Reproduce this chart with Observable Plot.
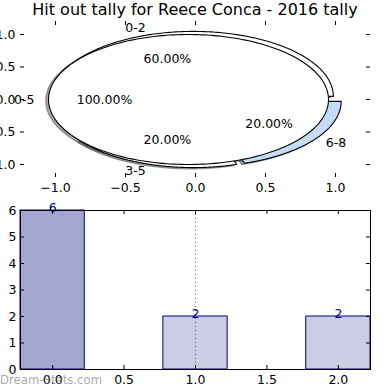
<!DOCTYPE html>
<html><head><meta charset="utf-8">
<script src="https://cdn.jsdelivr.net/npm/d3@7"></script>
<script src="https://cdn.jsdelivr.net/npm/@observablehq/plot@0.6"></script>
<style>
body{margin:0;background:#fff;font-family:"DejaVu Sans",sans-serif;}
#wrap{position:relative;width:390px;height:390px;overflow:hidden;background:#fff;}
#wrap svg{position:absolute;left:0;}
#title{position:absolute;left:0;top:0;width:390px;text-align:center;font-size:16px;line-height:20px;color:#000;}
#wm{position:absolute;left:0;top:372px;font-size:11.7px;line-height:16px;color:rgba(110,110,110,0.6);}
</style></head><body><div id="wrap"><div id="title"></div><div id="wm"></div></div>
<script>
const titleText = "Hit out tally for Reece Conca - 2016 tally";
const watermark = "Dream-Stats.com";
// pie 1 (split ranges)
const pieLabels = ["0-2", "3-5", "6-8"];
const pieValues = [6, 2, 2];
const pieColors = ["#ffffff", "#ffffff", "#c6dbf7"];
// pie 2 (total range)
const totalLabels = ["0-5"];
const totalValues = [10];
const totalColors = ["#ffffff"];
const explode = 0.05;
const pieTicksX = [-1, -0.5, 0, 0.5, 1];
const pieTicksY = [-1, -0.5, 0, 0.5, 1];
// bars
const barCategories = [0, 1, 2];
const barValues = [6, 2, 2];
const barColors = ["#a4a6d2", "#cccce5", "#cccce5"];
const barTicksX = [0, 0.5, 1, 1.5, 2];
const barTicksY = [0, 1, 2, 3, 4, 5, 6];
const refLineX = [1.0];
const barWidth = 0.45;

const fmt1 = d => d.toFixed(1).replace("-", "\u2212");

function wedges(values, labels, colors) {
  const total = d3.sum(values);
  let a = 0;
  return values.map((v, i) => {
    const a0 = a, a1 = a + v / total * 2 * Math.PI; a = a1;
    const m = (a0 + a1) / 2;
    const cx = explode * Math.cos(m), cy = explode * Math.sin(m);
    const full = v === total;
    const pts = [];
    if (!full) pts.push({x: cx, y: cy});
    const n = 240;
    for (let k = 0; k <= n; k++) {
      const t = a0 + (a1 - a0) * k / n;
      pts.push({x: cx + Math.cos(t), y: cy + Math.sin(t)});
    }
    if (!full) pts.push({x: cx, y: cy});
    const lx = cx + 1.1 * Math.cos(m), ly = cy + 1.1 * Math.sin(m);
    return {label: labels[i], pct: (v / total * 100).toFixed(2) + "%", color: colors[i],
      pts, lx, ly, px: cx + 0.6 * Math.cos(m), py: cy + 0.6 * Math.sin(m)};
  });
}
const w1 = wedges(pieValues, pieLabels, pieColors);
const w2 = wedges(totalValues, totalLabels, totalColors);
const all = [...w1, ...w2];

const shade = c => { const r = d3.rgb(c); return d3.rgb(r.r * 0.3, r.g * 0.3, r.b * 0.3).formatHex(); };

const shadowMarks = all.map(w => Plot.line(w.pts.map(p => ({x: p.x - 0.02, y: p.y - 0.02})),
  {x: "x", y: "y", fill: shade(w.color), fillOpacity: 0.5, stroke: shade(w.color), strokeOpacity: 0.5, strokeWidth: 1.2}));
const wedgeMarks = all.map(w => Plot.line(w.pts,
  {x: "x", y: "y", fill: w.color, stroke: "black", strokeWidth: 1.1}));

const FW = 350, FH1 = 156, FH2 = 159, TL = 4;

const topPlot = Plot.plot({
  width: 390, height: 195, marginLeft: 20, marginRight: 20, marginTop: 21, marginBottom: 18,
  x: {domain: [-1.25, 1.25], label: null}, y: {domain: [-1.2, 1.2], label: null},
  style: {fontFamily: "DejaVu Sans", fontSize: "12.5px", background: "transparent", color: "black"},
  marks: [
    ...shadowMarks,
    ...wedgeMarks,
    Plot.text(all.filter(w => w.lx > 0), {x: "lx", y: "ly", text: "label", textAnchor: "start", fontSize: 12.5}),
    Plot.text(all.filter(w => w.lx <= 0), {x: "lx", y: "ly", text: "label", textAnchor: "end", fontSize: 12.5}),
    Plot.text(all, {x: "px", y: "py", text: "pct", textAnchor: "middle", fontSize: 12.5}),
    Plot.tickX(pieTicksX, {x: d => d, insetBottom: FH1 - TL, stroke: "black"}),
    Plot.tickX(pieTicksX, {x: d => d, insetTop: FH1 - TL, stroke: "black"}),
    Plot.tickY(pieTicksY, {y: d => d, insetRight: FW - TL, stroke: "black"}),
    Plot.tickY(pieTicksY, {y: d => d, insetLeft: FW - TL, stroke: "black"}),
    Plot.axisX(pieTicksX, {anchor: "bottom", tickSize: 0, tickPadding: 6, tickFormat: fmt1, fontSize: 12.5, label: null}),
    Plot.axisY(pieTicksY, {anchor: "left", tickSize: 0, tickPadding: 5, tickFormat: fmt1, fontSize: 12.5, label: null})
  ]
});
topPlot.style.top = "0px";

const barData = barCategories.map((c, i) => ({c, v: barValues[i], color: barColors[i]}));
const botPlot = Plot.plot({
  width: 390, height: 195, marginLeft: 20, marginRight: 20, marginTop: 15, marginBottom: 21,
  x: {domain: [-barWidth / 2, 2 + barWidth / 2], label: null}, y: {domain: [0, 6], label: null},
  color: {type: "identity"},
  style: {fontFamily: "DejaVu Sans", fontSize: "12.5px", background: "transparent", color: "black"},
  marks: [
    Plot.rect(barData, {x1: d => d.c - barWidth / 2, x2: d => d.c + barWidth / 2, y1: 0, y2: "v",
      fill: "color", stroke: "#000080", strokeWidth: 1}),
    Plot.ruleX(refLineX, {x: d => d, stroke: "#666", strokeDasharray: "1,3", strokeWidth: 1}),
    Plot.text(barData, {x: "c", y: "v", text: d => String(d.v), lineAnchor: "bottom", fill: "#000080", fontSize: 12.5, dy: 1}),
    Plot.frame({stroke: "black"}),
    Plot.tickX(barTicksX, {x: d => d, insetBottom: FH2 - TL, stroke: "black"}),
    Plot.tickX(barTicksX, {x: d => d, insetTop: FH2 - TL, stroke: "black"}),
    Plot.tickY(barTicksY, {y: d => d, insetRight: FW - TL, stroke: "black"}),
    Plot.tickY(barTicksY, {y: d => d, insetLeft: FW - TL, stroke: "black"}),
    Plot.axisX(barTicksX, {anchor: "bottom", tickSize: 0, tickPadding: 6, tickFormat: fmt1, fontSize: 12.5, label: null}),
    Plot.axisY(barTicksY, {anchor: "left", tickSize: 0, tickPadding: 4, tickFormat: d => String(d), fontSize: 12.5, label: null})
  ]
});
botPlot.style.top = "195px";

const wrap = document.getElementById("wrap");
wrap.insertBefore(topPlot, wrap.firstChild);
wrap.insertBefore(botPlot, document.getElementById("wm"));
document.getElementById("title").textContent = titleText;
document.getElementById("wm").textContent = watermark;
</script>
</body></html>
